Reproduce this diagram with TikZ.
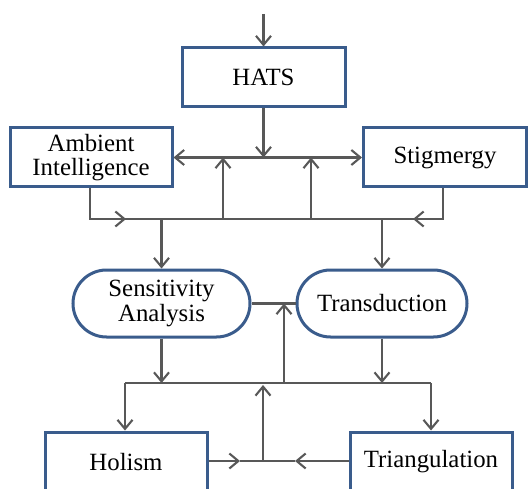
\documentclass[tikz,border=0pt]{standalone}
\usepackage{fontspec}
\setmainfont{Liberation Serif}
\newfontfamily\tnr{Liberation Serif}
\usetikzlibrary{arrows.meta,shapes.misc}
\definecolor{bordblue}{RGB}{58,92,140}
\definecolor{linegray}{RGB}{88,88,88}
\tikzset{
  box/.style={draw=bordblue, line width=3pt, fill=white, align=center, inner sep=0pt,
    font=\tnr\fontsize{24.8}{24.5}\selectfont},
  pill/.style={box, rounded rectangle},
  conn/.style={draw=linegray, line width=2.1pt},
  tip/.tip={Straight Barb[length=9pt,width=15pt,line width=2.1pt]},
  arr/.style={conn, -tip},
}
\begin{document}
\begin{tikzpicture}[x=1pt,y=-1pt]
\useasboundingbox (0,0) rectangle (530,489);
% nodes
\node[box, minimum width=163pt, minimum height=59pt] (hats) at (263.5,77.5) {HATS};
\node[box, minimum width=162pt, minimum height=59pt] (ai) at (91,157.5) {Ambient\\Intelligence};
\node[box, minimum width=163pt, minimum height=59pt] (stig) at (445,157.5) {Stigmergy};
\node[pill, minimum width=177pt, minimum height=67pt] (sens) at (161.5,303.5) {Sensitivity\\Analysis};
\node[pill, minimum width=170pt, minimum height=67pt] (trans) at (382,303.5) {Transduction};
\node[box, minimum width=162pt, minimum height=60pt] (hol) at (126,462) {Holism};
\node[box, minimum width=162pt, minimum height=60pt] (tri) at (431,462) {Triangulation};
% coordinates
\coordinate (top) at (263.5,14);
\coordinate (j1) at (263.5,157.5);
\coordinate (l2l) at (90,219);
\coordinate (l2r) at (443,219);
\coordinate (u1b) at (223,219);
\coordinate (u1t) at (223,157.5);
\coordinate (u2b) at (311,219);
\coordinate (u2t) at (311,157.5);
\coordinate (d1) at (161.5,219);
\coordinate (d2) at (382,219);
\coordinate (aiArr) at (126,219);
\coordinate (stArr) at (413,219);
\coordinate (mid) at (284,303.5);
\coordinate (midb) at (284,383);
\coordinate (l3l) at (125,383);
\coordinate (l3r) at (431,383);
\coordinate (s3) at (161.5,383);
\coordinate (t3) at (382,383);
\coordinate (ub) at (263,461);
\coordinate (ut) at (263,385);
\coordinate (hArr) at (240,461);
\coordinate (tArr) at (295,461);
% connectors
\draw[arr] (top) -- (hats.north);
\draw[arr] (hats.south) -- (j1);
\draw[conn, tip-tip] (ai.east |- j1) -- (stig.west |- j1);
\draw[arr] (u1b) -- (u1t);
\draw[arr] (u2b) -- (u2t);
\draw[conn] (l2l) -- (l2r);
\draw[arr] (ai.south -| l2l) -- (l2l) -- (aiArr);
\draw[arr] (stig.south -| l2r) -- (l2r) -- (stArr);
\draw[arr] (d1) -- (sens.north);
\draw[arr] (d2) -- (trans.north);
\draw[conn] (sens.east) -- (trans.west);
\draw[arr] (midb) -- (mid);
\draw[arr] (sens.south) -- (s3);
\draw[arr] (trans.south) -- (t3);
\draw[conn] (l3l) -- (l3r);
\draw[arr] (l3l) -- (hol.north -| l3l);
\draw[arr] (l3r) -- (tri.north -| l3r);
\draw[arr] (ub) -- (ut);
\draw[arr] (hol.east |- ub) -- (hArr);
\draw[conn] (hArr) -- (ub);
\draw[arr] (tri.west |- ub) -- (tArr);
\draw[conn] (tArr) -- (ub);
\end{tikzpicture}
\end{document}
